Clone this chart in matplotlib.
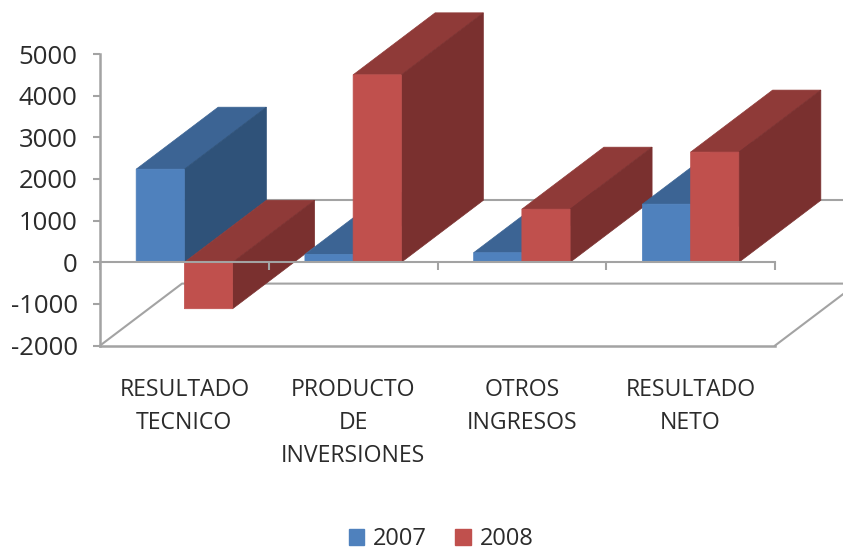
import matplotlib
matplotlib.use("Agg")
import matplotlib.pyplot as plt
from matplotlib.patches import Patch

categories = ["RESULTADO\nTECNICO", "PRODUCTO\nDE\nINVERSIONES", "OTROS\nINGRESOS", "RESULTADO\nNETO"]
series_names = ["2007", "2008"]
values_2007 = [2235, 190, 230, 1395]
values_2008 = [-1115, 4500, 1275, 2645]
y_ticks = [-2000, -1000, 0, 1000, 2000, 3000, 4000, 5000]

plt.rcParams['font.family'] = ['Open Sans', 'DejaVu Sans']
plt.rcParams['axes.unicode_minus'] = False
W, H = 843, 550
L, R, T, B = 100, 775, 54, 345.6
GRAY = '#a3a3a3'
TEXT = '#2b2b2b'
blue = ('#4F81BD', '#3C6494', '#2F5279')
red = ('#C0504D', '#8F3A38', '#7A302F')

fig = plt.figure(figsize=(W / 100, H / 100), dpi=100)
ax = fig.add_axes([L / W, 1 - B / H, (R - L) / W, (B - T) / H])
ax.set_xlim(0, len(categories))
ax.set_ylim(-2000, 5000)

DX = 82 / ((R - L) / len(categories))
DY = 62 / ((B - T) / 7000)
BW = 0.2857


def box(x0, x1, v, cols, z):
    lo, hi = min(0, v), max(0, v)
    kw = dict(lw=0.5, clip_on=False, snap=False)
    ax.fill([x0, x1, x1 + DX, x0 + DX], [hi, hi, hi + DY, hi + DY], color=cols[1], zorder=z, **kw)
    ax.fill([x1, x1 + DX, x1 + DX, x1], [lo, lo + DY, hi + DY, hi], color=cols[2], zorder=z + 0.1, **kw)
    ax.fill([x0, x1, x1, x0], [lo, lo, hi, hi], color=cols[0], zorder=z + 0.2, **kw)


# floor and back wall
n = len(categories)
line = dict(color=GRAY, lw=1.5, clip_on=False, zorder=1)
ax.plot([0, DX, n + DX, n], [-2000, -2000 + DY, -2000 + DY, -2000], **line)
ax.plot([DX, n + DX], [DY, DY], **line)

for i, (a, b) in enumerate(zip(values_2007, values_2008)):
    c = i + 0.5
    box(c - BW, c, a, blue, 2 + i)
    box(c, c + BW, b, red, 2.5 + i)

# axes
for s in ('top', 'right'):
    ax.spines[s].set_visible(False)
for s in ('left', 'bottom'):
    ax.spines[s].set_color(GRAY)
    ax.spines[s].set_linewidth(1.8)
ax.set_yticks(y_ticks)
ax.tick_params(axis='y', direction='out', length=5, width=1.5, color=GRAY,
               labelsize=18.5, labelcolor=TEXT, pad=11)
ax.set_xticks([])
ax.set_xticks([i + 0.5 for i in range(n)], categories, minor=True)
ax.tick_params(axis='x', which='minor', length=0, pad=23.3, labelsize=16.6, labelcolor=TEXT)
for t in ax.get_xticklabels(minor=True):
    t.set_linespacing(1.5)

zero = ax.secondary_xaxis(2000 / 7000)
zero.set_zorder(20)
zero.set_xticks(range(n + 1))
zero.set_xticklabels([])
zero.tick_params(axis='x', direction='out', length=6, width=1.5, color=GRAY)
zero.spines['bottom'].set_color(GRAY)
zero.spines['bottom'].set_linewidth(1.5)

handles = [Patch(color=blue[0], label=series_names[0]), Patch(color=red[0], label=series_names[1])]
fig.legend(handles=handles, loc='center', bbox_to_anchor=(441 / W, 1 - 539 / H), ncol=2, frameon=False,
           fontsize=17, labelcolor=TEXT, handlelength=0.67, handleheight=0.67,
           handletextpad=0.36, columnspacing=1.2, borderpad=0, borderaxespad=0)

fig.savefig('out.png', dpi=100)
